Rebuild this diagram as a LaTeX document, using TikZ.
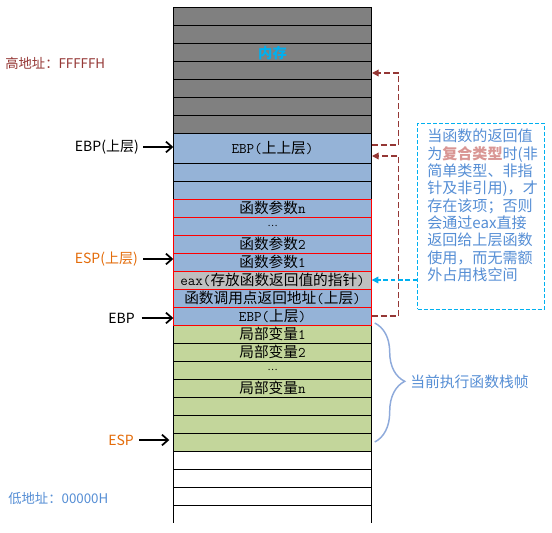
\documentclass[tikz,border=0pt]{standalone}
\usepackage{fontspec}
\setmainfont{Noto Sans CJK SC}
\usetikzlibrary{arrows.meta,decorations.pathreplacing}
\definecolor{memgray}{HTML}{808080}
\definecolor{cellblue}{HTML}{95B3D7}
\definecolor{cellgreen}{HTML}{C3D69B}
\definecolor{cellgray}{HTML}{BFBFBF}
\definecolor{brownred}{HTML}{953735}
\definecolor{cyanc}{HTML}{00B0F0}
\definecolor{bluetext}{HTML}{558ED5}
\definecolor{orangec}{HTML}{E46C0A}
\definecolor{rosec}{HTML}{D99694}
\definecolor{bracec}{HTML}{8EAADB}
\newcommand\lt[1]{{\ttfamily #1}}
\newcommand\dotsx{{\fontsize{7}{8}\selectfont …}}
\begin{document}
\begin{tikzpicture}[x=0.75pt,y=-0.75pt,
  cell/.style={draw=black, line width=0.75pt, minimum width=148.8pt, minimum height=13.5pt,
    inner sep=0pt, outer sep=0pt, font=\fontsize{11}{13}\selectfont},
  redcell/.style={cell, draw=red},
  lbl/.style={inner sep=0pt, font=\fontsize{10.5}{12}\selectfont},
  ptr/.style={line width=1.5pt, -{Straight Barb[length=4.5pt,width=8pt,line width=1.3pt]}},
  brownarrow/.style={draw=brownred, line width=1pt, dash pattern=on 4.5pt off 2.25pt,
    -{Triangle[length=5pt,width=5pt]}, rounded corners=0pt},
  cyanarrow/.style={draw=cyanc, line width=1pt, dash pattern=on 3.5pt off 2pt,
    -{Triangle[length=5pt,width=5pt]}}
]
\useasboundingbox (0,0) rectangle (552,532);
\fill[white] (0,0) rectangle (552,532);

% gray (memory) rows
\foreach \i in {1,...,7}{
  \node[cell, fill=memgray] (g\i) at (272.5,{7+18*\i-9}) {};
}
\node[inner sep=0pt, text=cyanc, font=\fontsize{10.75}{12}\selectfont\bfseries] (mem) at (272.5,53) {内存};

% blue rows
\node[cell, fill=cellblue, minimum height=22.5pt] (r1) at (272.5,148) {\lt{EBP(}上上层\lt{)}};
\node[cell, fill=cellblue] (r2) at (272.5,172) {};
\node[cell, fill=cellblue] (r3) at (272.5,190) {};

% green rows
\node[cell, fill=cellgreen] (v1) at (272.5,334) {局部变量\lt{1}};
\node[cell, fill=cellgreen] (v2) at (272.5,352) {局部变量\lt{2}};
\node[cell, fill=cellgreen] (v3) at (272.5,370) {\dotsx};
\node[cell, fill=cellgreen] (v4) at (272.5,388) {局部变量\lt{n}};
\node[cell, fill=cellgreen] (v5) at (272.5,406) {};
\node[cell, fill=cellgreen] (v6) at (272.5,424) {};
\node[cell, fill=cellgreen] (v7) at (272.5,442) {};

% white rows
\node[cell] (w1) at (272.5,460) {};
\node[cell] (w2) at (272.5,478) {};
\node[cell] (w3) at (272.5,496) {};
\node[cell, draw=none] (w4) at (272.5,514) {};
\draw[line width=0.75pt] (w4.north west) -- (w4.south west) (w4.north east) -- (w4.south east);

% red-bordered rows
\node[redcell, fill=cellblue] (p4) at (272.5,208) {函数参数\lt{n}};
\node[redcell, fill=cellblue] (p3) at (272.5,226) {\dotsx};
\node[redcell, fill=cellblue] (p2) at (272.5,244) {函数参数\lt{2}};
\node[redcell, fill=cellblue] (p1) at (272.5,262) {函数参数\lt{1}};
\node[redcell, fill=cellgray] (eax) at (272.5,280) {\lt{eax(}存放函数返回值的指针\lt{)}};
\node[redcell, fill=cellblue] (ret) at (272.5,298) {函数调用点返回地址\lt{(}上层\lt{)}};
\node[redcell, fill=cellblue] (ebpl) at (272.5,316) {\lt{EBP(}上层\lt{)}};

% left labels
\node[lbl, anchor=west, text=brownred, font=\fontsize{10}{12}\selectfont] (hi) at (5,63) {高地址：FFFFFH};
\node[lbl, anchor=west, text=bluetext, font=\fontsize{10}{12}\selectfont] (lo) at (8,498) {低地址：00000H};
\node[lbl, anchor=east] (lebpu) at (139,147) {EBP(上层)};
\node[lbl, anchor=east, text=orangec] (lespu) at (138,259) {ESP(上层)};
\node[lbl, anchor=east] (lebp) at (135,318) {EBP};
\node[lbl, anchor=east, text=orangec] (lesp) at (134,440) {ESP};

\draw[ptr] ([xshift=3pt]lebpu.east) -- (lebpu.east -| r1.west);
\draw[ptr] ([xshift=4pt]lespu.east) -- (lespu.east -| p1.west);
\draw[ptr] ([xshift=5pt]lebp.east) -- (lebp.east -| ebpl.west);
\draw[ptr] ([xshift=4pt]lesp.east) -- ([xshift=-3pt]lesp.east -| v7.west);

% brown dashed pointers
\coordinate (t1) at (372,73);
\coordinate (t2) at (372,156);
\draw[brownarrow] ([yshift=2.25pt]r1.east) -- ++(27,0) |- (t1);
\draw[brownarrow] (ebpl.east) -- ++(27,0) |- (t2);

% note box
\node[draw=cyanc, line width=0.75pt, dash pattern=on 3pt off 1.5pt,
  minimum width=95pt, minimum height=139.3pt, inner sep=0pt] (box) at (481,216.2) {};
\node[anchor=north west, align=left, inner sep=0pt, text=bluetext,
  font=\fontsize{11.3}{13}\selectfont] (boxtxt) at (427,129) {当函数的返回值\\为\textcolor{rosec}{\bfseries 复合类型}时(非\\简单类型、非指\\针及非引用)，才\\存在该项；否则\\会通过eax直接\\返回给上层函数\\使用，而无需额\\外占用栈空间};
\draw[cyanarrow] (box.west |- eax.east) -- (eax.east);

% brace
\draw[draw=bracec, line width=1.1pt, decorate, decoration={brace, amplitude=22.5pt, aspect=0.49}]
  ([xshift=2.25pt,yshift=1.5pt]v1.north east) -- ([xshift=2.25pt]v7.east);
\node[anchor=west, inner sep=0pt, text=bluetext, font=\fontsize{11.1}{13}\selectfont] (frame) at (410,381.5) {当前执行函数栈帧};
\end{tikzpicture}
\end{document}
